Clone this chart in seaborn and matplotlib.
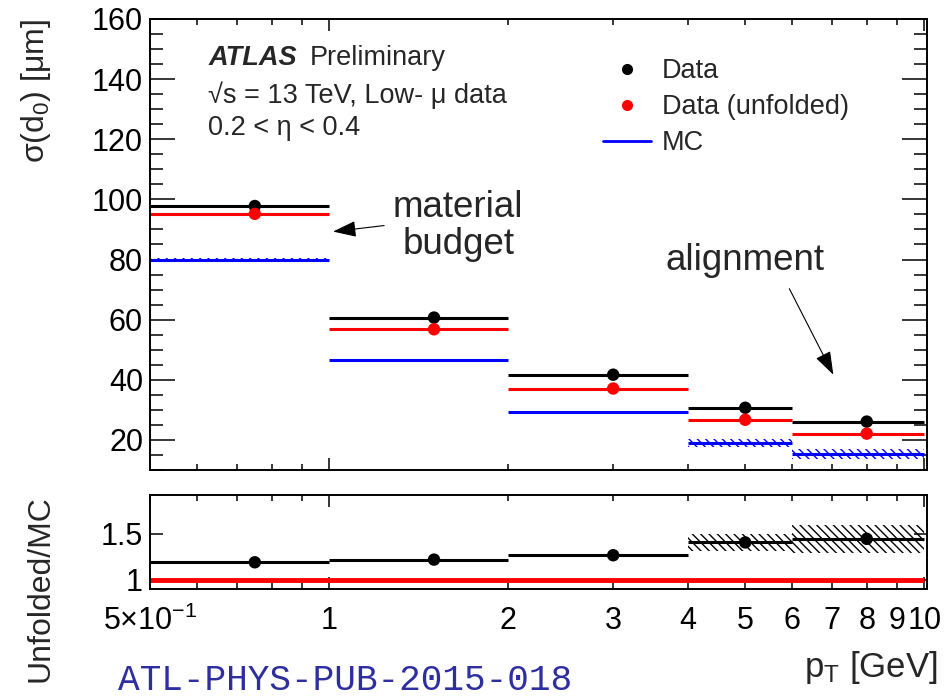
import numpy as np
import pandas as pd
import matplotlib
matplotlib.use("Agg")
import matplotlib.pyplot as plt
import seaborn as sns
from matplotlib.lines import Line2D
from matplotlib.ticker import FixedLocator, FixedFormatter, NullFormatter, MultipleLocator, NullLocator

# ---- data -------------------------------------------------------------
bin_edges = [0.5, 1.0, 2.0, 4.0, 6.0, 10.0]
pt_centers = [0.75, 1.5, 3.0, 5.0, 8.0]
sigma_data = [97.8, 60.7, 41.7, 30.7, 26.1]
sigma_unfolded = [95.2, 56.8, 37.1, 26.7, 22.1]
sigma_mc = [80.0, 46.6, 29.3, 19.0, 15.3]
sigma_mc_err = [0.45, 0.45, 0.4, 1.3, 1.6]

x_tick_values = [0.5, 1, 2, 3, 4, 5, 6, 7, 8, 9, 10]
x_tick_labels = ["5×10$^{-1}$", "1", "2", "3", "4", "5", "6", "7", "8", "9", "10"]

# ---- style ------------------------------------------------------------
sns.set_theme(style="ticks")
plt.rcParams.update({
    "font.family": ["Liberation Sans", "DejaVu Sans"],
    "mathtext.fontset": "custom",
    "mathtext.rm": "Liberation Sans",
    "mathtext.it": "Liberation Sans:italic",
    "mathtext.default": "regular",
    "hatch.linewidth": 1.0,
    "axes.linewidth": 1.4,
    "axes.edgecolor": "black",
    "xtick.direction": "in",
    "ytick.direction": "in",
    "xtick.color": "black",
    "ytick.color": "black",
})

W, H = 949, 699
fig = plt.figure(figsize=(W / 100, H / 100), dpi=100)
left, right = 150, 927
ax = fig.add_axes([left / W, 1 - 470 / H, (right - left) / W, (470 - 19) / H])
rax = fig.add_axes([left / W, 1 - 589 / H, (right - left) / W, (589 - 495) / H])

df = pd.DataFrame({
    "pt": pt_centers,
    "data": sigma_data,
    "unfolded": sigma_unfolded,
    "mc": sigma_mc,
    "mc_err": sigma_mc_err,
})
df["ratio"] = df["unfolded"] / df["mc"]
df["ratio_err"] = df["ratio"] * df["mc_err"] / df["mc"]

lo_edges = bin_edges[:-1]
hi_edges = bin_edges[1:]
HATCH = "\\" * 4
MARKER_AREA = 80


def step_vals(v):
    v = list(v)
    return v + [v[-1]]


# ---- main panel -------------------------------------------------------
ax.set_xscale("log")
ax.fill_between(bin_edges, step_vals(df["mc"] - df["mc_err"]),
                step_vals(df["mc"] + df["mc_err"]), step="post",
                facecolor="none", edgecolor="blue", hatch=HATCH, linewidth=0, zorder=1)
ax.hlines(df["mc"], lo_edges, hi_edges, color="blue", lw=2.2, zorder=2)
ax.hlines(df["data"], lo_edges, hi_edges, color="black", lw=2.2, zorder=2)
ax.hlines(df["unfolded"], lo_edges, hi_edges, color="red", lw=2.2, zorder=2)
sns.scatterplot(data=df, x="pt", y="data", ax=ax, color="black", s=MARKER_AREA,
                edgecolor="none", legend=False, zorder=4)
sns.scatterplot(data=df, x="pt", y="unfolded", ax=ax, color="red", s=MARKER_AREA,
                edgecolor="none", legend=False, zorder=5)

ax.set_xlim(0.5, 10.1)
ax.set_ylim(10, 160)
ax.xaxis.set_major_locator(FixedLocator([1, 10]))
ax.xaxis.set_minor_locator(FixedLocator([0.6, 0.7, 0.8, 0.9, 2, 3, 4, 5, 6, 7, 8, 9]))
ax.xaxis.set_major_formatter(NullFormatter())
ax.xaxis.set_minor_formatter(NullFormatter())
ax.tick_params(axis="x", which="both", top=True, bottom=True, labelbottom=False, width=1.1)
ax.tick_params(axis="x", which="major", length=8.6)
ax.tick_params(axis="x", which="minor", length=4.5)
ax.yaxis.set_major_locator(MultipleLocator(20))
ax.yaxis.set_minor_locator(MultipleLocator(5))
ax.tick_params(axis="y", which="both", left=True, right=True, width=1.1)
ax.tick_params(axis="y", which="major", length=18, labelsize=22, pad=5)
ax.tick_params(axis="y", which="minor", length=9.4)
ax.set_xlabel("")
ax.set_ylabel("σ(d$_0$) [μm]", fontsize=23, loc="top")
ax.yaxis.set_label_coords(-0.125, 1.0)

ax.text(0.075, 0.913, "ATLAS", transform=ax.transAxes, fontsize=19.5,
        fontweight="bold", fontstyle="italic", va="center", ha="left")
ax.text(0.206, 0.913, "Preliminary", transform=ax.transAxes, fontsize=19.5,
        va="center", ha="left")
ax.text(0.075, 0.8315, "√s = 13 TeV, Low- μ data", transform=ax.transAxes,
        fontsize=19.5, va="center", ha="left")
ax.text(0.075, 0.758, "0.2 < η < 0.4", transform=ax.transAxes, fontsize=19.5,
        va="center", ha="left")

ax.text(1.647, 91.2, "material\nbudget", fontsize=26.5, ha="center",
        va="center", linespacing=1.06)
ax.annotate("", xy=(1.015, 89.3), xytext=(1.237, 91.3),
            arrowprops=dict(arrowstyle="-|>,head_length=0.72,head_width=0.25",
                            color="black", lw=0.8, shrinkA=0, shrinkB=0,
                            mutation_scale=20))
ax.text(5.0, 79.7, "alignment", fontsize=26.5, ha="center", va="center")
ax.annotate("", xy=(7.03, 41.7), xytext=(5.93, 70.3),
            arrowprops=dict(arrowstyle="-|>,head_length=0.72,head_width=0.25",
                            color="black", lw=0.8, shrinkA=0, shrinkB=0,
                            mutation_scale=20))

handles = [
    Line2D([], [], marker="o", color="black", linestyle="none", markersize=7),
    Line2D([], [], marker="o", color="red", linestyle="none", markersize=7),
    Line2D([], [], color="blue", lw=2),
]
ax.legend(handles, ["Data", "Data (unfolded)", "MC"], loc="upper left",
          bbox_to_anchor=(603 / W, 1 - 58 / H), bbox_transform=fig.transFigure,
          frameon=False, fontsize=19.5, handlelength=1.77, handletextpad=0.4,
          labelspacing=0.37, borderpad=0, borderaxespad=0)

# ---- ratio panel ------------------------------------------------------
rax.set_xscale("log")
rax.fill_between(bin_edges, step_vals(df["ratio"] - df["ratio_err"]),
                 step_vals(df["ratio"] + df["ratio_err"]), step="post",
                 facecolor="none", edgecolor="black", hatch=HATCH, linewidth=0, zorder=1)
rax.hlines(1.0, bin_edges[0], bin_edges[-1], color="red", lw=3.5, zorder=2)
rax.hlines(df["ratio"], lo_edges, hi_edges, color="black", lw=2.2, zorder=3)
sns.scatterplot(data=df, x="pt", y="ratio", ax=rax, color="black", s=MARKER_AREA,
                edgecolor="none", legend=False, zorder=4)

rax.set_xlim(0.5, 10.1)
rax.set_ylim(0.9, 1.92)
rax.xaxis.set_major_locator(FixedLocator(x_tick_values))
rax.xaxis.set_major_formatter(FixedFormatter(x_tick_labels))
rax.xaxis.set_minor_locator(FixedLocator([0.6, 0.7, 0.8, 0.9]))
rax.xaxis.set_minor_formatter(NullFormatter())
rax.tick_params(axis="x", which="both", top=True, bottom=True, width=1.1, length=4.5)
rax.tick_params(axis="x", which="major", labelsize=22, pad=12)
for val, tick in zip(x_tick_values, rax.xaxis.get_major_ticks()):
    if val in (1, 10):
        tick.tick1line.set_markersize(8.6)
        tick.tick2line.set_markersize(8.6)
rax.yaxis.set_major_locator(FixedLocator([1.0, 1.5]))
rax.yaxis.set_major_formatter(FixedFormatter(["1", "1.5"]))
rax.yaxis.set_minor_locator(NullLocator())
rax.tick_params(axis="y", which="major", left=True, right=True, length=9.4,
                width=1.1, labelsize=22, pad=5)
rax.set_ylabel("Unfolded/MC", fontsize=23, loc="top")
rax.yaxis.set_label_coords(-0.122, 1.0)
rax.set_xlabel("p$_T$ [GeV]", fontsize=25, loc="right")
rax.xaxis.set_label_coords(1.013, -0.64)

fig.text(118 / W, 0.002, "ATL-PHYS-PUB-2015-018",
         family=["Liberation Mono", "DejaVu Sans Mono"], fontsize=26,
         color="#2e2ea0", va="bottom", ha="left")

fig.savefig("out.png", dpi=100, facecolor="white")
